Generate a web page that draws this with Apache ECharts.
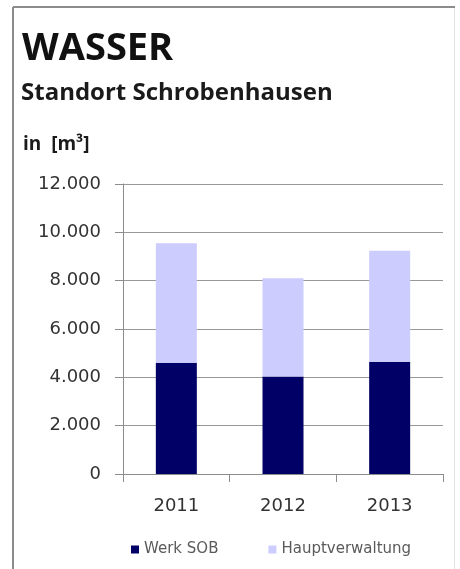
<!DOCTYPE html>
<html>
<head>
<meta charset="utf-8">
<script src="https://cdn.jsdelivr.net/npm/echarts@6/dist/echarts.min.js"></script>
<style>
  html, body { margin: 0; padding: 0; background: #fff; }
  #chart { width: 460px; height: 569px; }
</style>
</head>
<body>
<div id="chart"></div>
<script>
// Water consumption per year, stacked by site
const years = ['2011', '2012', '2013'];
const werkSOB = [4600, 4030, 4650];
const hauptverwaltung = [4950, 4070, 4590];
const yTicks = { min: 0, max: 12000, interval: 2000 };

const fmt = v => v === 0 ? '0' : String(v).replace(/\B(?=(\d{3})+(?!\d))/g, '.');

const chart = echarts.init(document.getElementById('chart'), null, { renderer: 'canvas' });

chart.setOption({
  animation: false,
  backgroundColor: '#fff',
  graphic: [
    { type: 'line', shape: { x1: 13, y1: 7, x2: 455, y2: 7 }, style: { stroke: '#8c8c8c', lineWidth: 2 } },
    { type: 'line', shape: { x1: 13, y1: 7, x2: 13, y2: 569 }, style: { stroke: '#8c8c8c', lineWidth: 2 } },
    { type: 'line', shape: { x1: 454.5, y1: 8, x2: 454.5, y2: 569 }, style: { stroke: '#e2e2e2', lineWidth: 1 } },
    { type: 'text', left: 22, top: 30, style: { text: 'WASSER', font: 'bold 38px "Open Sans"', fill: '#111' } },
    { type: 'text', left: 21, top: 81, style: { text: 'Standort Schrobenhausen', font: 'bold 24px "Open Sans"', fill: '#1a1a1a' } },
    { type: 'text', left: 23, top: 135, style: { text: 'in  [m³]', font: 'bold 19px "Open Sans"', fill: '#1a1a1a' } }
  ],
  grid: { left: 123, right: 17, top: 184, bottom: 95, containLabel: false },
  legend: {
    left: 131, top: 542, padding: 0,
    itemWidth: 8, itemHeight: 8, itemGap: 50,
    icon: 'rect',
    textStyle: { fontFamily: 'DejaVu Sans', fontSize: 15, color: '#5a5a5a' },
    data: ['Werk SOB', 'Hauptverwaltung']
  },
  xAxis: {
    type: 'category',
    data: years,
    axisLine: { lineStyle: { color: '#8c8c8c', width: 1 } },
    axisTick: { show: true, length: 8, alignWithLabel: false, lineStyle: { color: '#8c8c8c' } },
    axisLabel: { fontFamily: 'DejaVu Sans', fontSize: 18, color: '#333', margin: 23 }
  },
  yAxis: {
    type: 'value',
    min: yTicks.min, max: yTicks.max, interval: yTicks.interval,
    axisLine: { show: true, lineStyle: { color: '#8c8c8c', width: 1 } },
    axisTick: { show: true, length: 8, lineStyle: { color: '#8c8c8c' } },
    splitLine: { lineStyle: { color: '#999', width: 1 } },
    axisLabel: { fontFamily: 'DejaVu Sans', fontSize: 18, color: '#333', margin: 22, formatter: fmt }
  },
  series: [
    { name: 'Werk SOB', type: 'bar', stack: 'total', barWidth: 41, data: werkSOB, itemStyle: { color: '#000066' } },
    { name: 'Hauptverwaltung', type: 'bar', stack: 'total', barWidth: 41, data: hauptverwaltung, itemStyle: { color: '#ccccff' } }
  ]
});
</script>
</body>
</html>
